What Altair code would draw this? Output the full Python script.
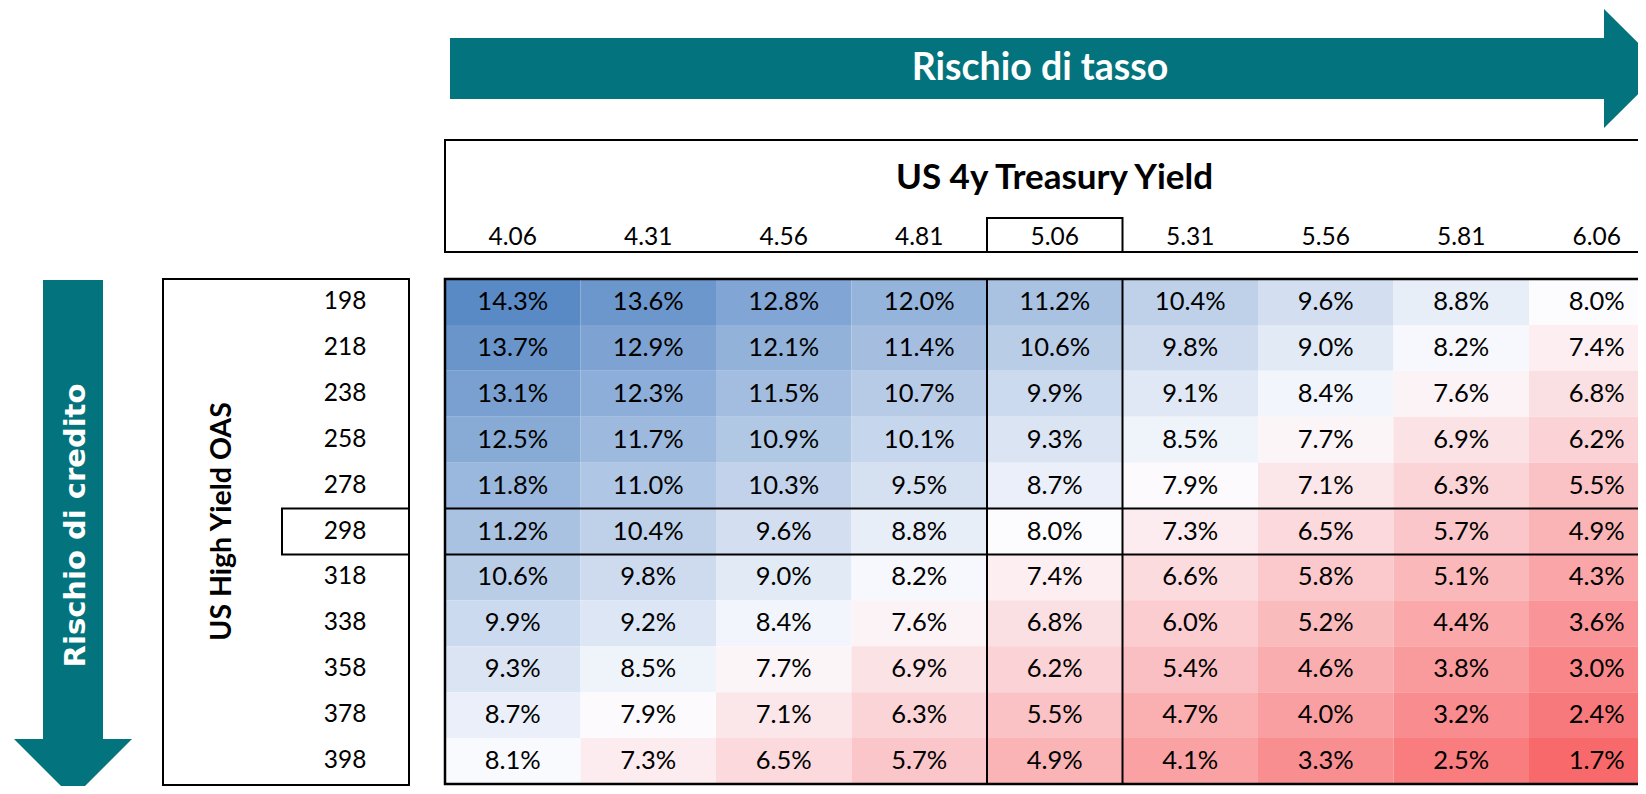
import altair as alt
import pandas as pd

# ---- data ----
yields = ["4.06", "4.31", "4.56", "4.81", "5.06", "5.31", "5.56", "5.81", "6.06"]
oas = ["198", "218", "238", "258", "278", "298", "318", "338", "358", "378", "398"]

r198 = [14.3, 13.6, 12.8, 12.0, 11.2, 10.4, 9.6, 8.8, 8.0]
r218 = [13.7, 12.9, 12.1, 11.4, 10.6, 9.8, 9.0, 8.2, 7.4]
r238 = [13.1, 12.3, 11.5, 10.7, 9.9, 9.1, 8.4, 7.6, 6.8]
r258 = [12.5, 11.7, 10.9, 10.1, 9.3, 8.5, 7.7, 6.9, 6.2]
r278 = [11.8, 11.0, 10.3, 9.5, 8.7, 7.9, 7.1, 6.3, 5.5]
r298 = [11.2, 10.4, 9.6, 8.8, 8.0, 7.3, 6.5, 5.7, 4.9]
r318 = [10.6, 9.8, 9.0, 8.2, 7.4, 6.6, 5.8, 5.1, 4.3]
r338 = [9.9, 9.2, 8.4, 7.6, 6.8, 6.0, 5.2, 4.4, 3.6]
r358 = [9.3, 8.5, 7.7, 6.9, 6.2, 5.4, 4.6, 3.8, 3.0]
r378 = [8.7, 7.9, 7.1, 6.3, 5.5, 4.7, 4.0, 3.2, 2.4]
r398 = [8.1, 7.3, 6.5, 5.7, 4.9, 4.1, 3.3, 2.5, 1.7]
rows = [r198, r218, r238, r258, r278, r298, r318, r338, r358, r378, r398]

title_x = "US 4y Treasury Yield"
title_y = "US High Yield OAS"
arrow_x_text = "Rischio di tasso"
arrow_y_text = "Rischio di credito"

records = [
    {"oas": o, "yld": y, "value": v}
    for o, r in zip(oas, rows)
    for y, v in zip(yields, r)
]
df = pd.DataFrame(records)

# ---- layout (plot origin = top-left of heatmap) ----
W, H = 1193, 505
CELL_W = 135.5
TEAL = "#03737D"
FONT = "Lato"

xs = alt.X(
    "yld:N", sort=yields,
    scale=alt.Scale(domain=yields, range=[0, CELL_W * len(yields)], paddingInner=0, paddingOuter=0),
    axis=alt.Axis(orient="top", title=None, domain=False, ticks=False, tickSize=0,
                  labelAngle=0, labelFontSize=24.5, labelFont=FONT, labelColor="black",
                  labelPadding=35, labelBaseline="alphabetic"),
)
ys = alt.Y(
    "oas:N", sort=oas,
    scale=alt.Scale(domain=oas, range=[0, H], paddingInner=0, paddingOuter=0),
    axis=alt.Axis(orient="left", title=None, domain=False, ticks=False, tickSize=0,
                  labelFontSize=24.5, labelFont=FONT, labelColor="black",
                  labelPadding=79, labelBaseline="middle"),
)

heat = alt.Chart(df).mark_rect().encode(
    x=xs, y=ys,
    color=alt.Color("value:Q", legend=None,
                    scale=alt.Scale(domain=[1.7, 8.0, 14.3],
                                    range=["#F8696B", "#FCFCFF", "#5A8AC6"],
                                    interpolate="rgb")),
)

cell_text = alt.Chart(df).transform_calculate(
    label="format(datum.value, '.1f') + '%'"
).mark_text(font=FONT, fontSize=25.5, color="black", baseline="middle").encode(
    x=xs, y=ys, text="label:N"
)

one = alt.Data(values=[{"k": 1}])


def box(x1, x2, y1, y2, sw=2):
    return alt.Chart(one).mark_rect(fillOpacity=0, stroke="black", strokeWidth=sw).encode(
        x=alt.value(x1), x2=alt.value(x2), y=alt.value(y1), y2=alt.value(y2))


def rule(x1, x2, y1, y2, sw=2):
    return alt.Chart(one).mark_rule(color="black", strokeWidth=sw).encode(
        x=alt.value(x1), x2=alt.value(x2), y=alt.value(y1), y2=alt.value(y2))


def shape(path):
    return alt.Chart(one).mark_point(shape=path, size=4, filled=True, fill=TEAL,
                                     opacity=1, strokeWidth=0).encode(
        x=alt.value(0), y=alt.value(0))


def label(txt, x, y, size, color="black", weight="bold", angle=0, font=FONT):
    return alt.Chart(one).mark_text(text=txt, font=font, fontWeight=weight, fontSize=size,
                                    color=color, align="center", baseline="alphabetic",
                                    angle=angle).encode(x=alt.value(x), y=alt.value(y))


row_h = H / len(oas)
i_col = yields.index("5.06")
i_row = oas.index("298")
cx1, cx2 = i_col * CELL_W, (i_col + 1) * CELL_W
ry1, ry2 = i_row * row_h, (i_row + 1) * row_h

top_arrow = "M5,-241 L1159,-241 L1159,-270 L1219,-210.5 L1159,-151 L1159,-180 L5,-180 Z"
left_arrow = "M-402,1 L-342,1 L-342,460 L-313,460 L-372,519 L-431,460 L-402,460 Z"

layers = [
    heat,
    cell_text,
    shape(top_arrow),
    shape(left_arrow),
    label(arrow_x_text, 595, -199, 37.5, color="white"),
    label(arrow_y_text, -360, 246.5, 29, color="white", angle=270, font="DejaVu Sans"),
    box(0, 1240, -139, -27),
    box(cx1, cx2, -61, -27),
    label(title_x, 609.5, -90, 35),
    box(-282, -36, 0, H + 1),
    box(-163, -36, ry1, ry2),
    label(title_y, -214, 242.5, 28.5, angle=270),
    rule(cx1, cx1, 0, H, 2),
    rule(cx2, cx2, 0, H, 2),
    rule(0, 1240, ry1, ry1, 2),
    rule(0, 1240, ry2, ry2, 2),
    box(0, 1240, 0, H, 2.5),
]

chart = alt.layer(*layers).properties(
    width=W, height=H,
    padding={"left": 437, "top": 271, "right": 0, "bottom": 2},
    autosize=alt.AutoSizeParams(type="none"),
    background="white",
).configure_view(stroke=None)

chart.save("out.html", embed_options={"renderer": "svg", "actions": False})
